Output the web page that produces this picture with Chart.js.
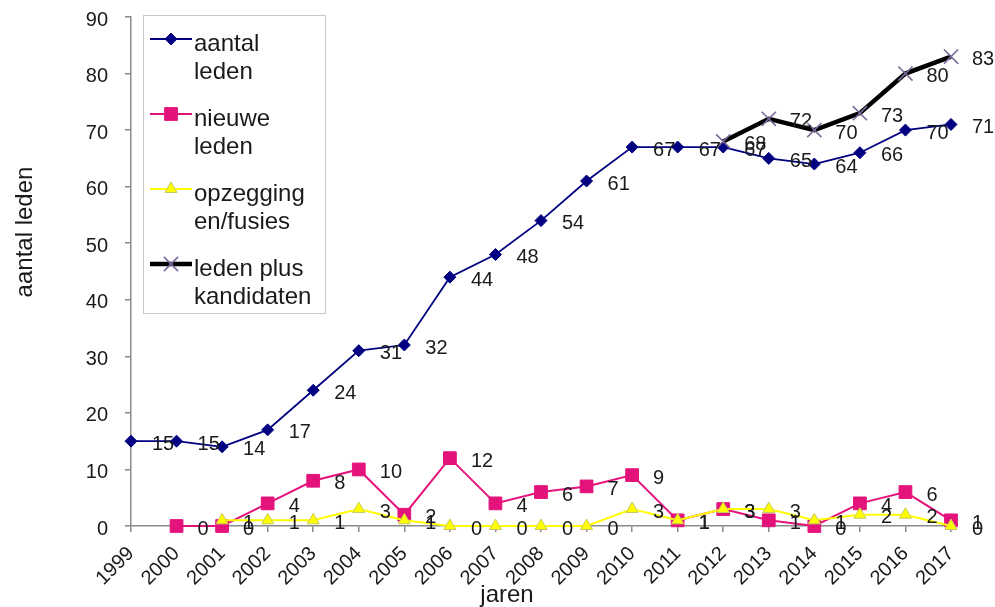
<!doctype html>
<html lang="nl">
  <head>
    <meta charset="UTF-8" />
    <title>Aantal leden</title>
    <script src="https://cdn.jsdelivr.net/npm/chart.js"></script>
    <style>
      html,
      body {
        margin: 0;
        padding: 0;
        background: #fff;
      }
      #wrap {
        width: 995px;
        height: 607px;
        position: relative;
      }
    </style>
  </head>

  <body>
    <div id="wrap"><canvas id="ledenChart"></canvas></div>

    <script>
      const years = [
        "1999", "2000", "2001", "2002", "2003", "2004", "2005", "2006", "2007", "2008",
        "2009", "2010", "2011", "2012", "2013", "2014", "2015", "2016", "2017",
      ];
      const aantalLeden = [15, 15, 14, 17, 24, 31, 32, 44, 48, 54, 61, 67, 67, 67, 65, 64, 66, 70, 71];
      const nieuweLeden = [null, 0, 0, 4, 8, 10, 2, 12, 4, 6, 7, 9, 1, 3, 1, 0, 4, 6, 1];
      const opzeggingen = [null, null, 1, 1, 1, 3, 1, 0, 0, 0, 0, 3, 1, 3, 3, 1, 2, 2, 0];
      const ledenPlusKandidaten = [
        null, null, null, null, null, null, null, null, null, null, null, null, null,
        68, 72, 70, 73, 80, 83,
      ];
      const legendLines = [
        ["aantal", "leden"],
        ["nieuwe", "leden"],
        ["opzegging", "en/fusies"],
        ["leden plus", "kandidaten"],
      ];
      const yTicks = [0, 10, 20, 30, 40, 50, 60, 70, 80, 90];

      const FONT = "'Liberation Sans', Arial, sans-serif";
      const AXIS = "#8a8a8a";

      // value labels right of each point
      const valueLabels = {
        id: "valueLabels",
        afterDatasetsDraw(chart) {
          const ctx = chart.ctx;
          ctx.save();
          ctx.font = "20px " + FONT;
          ctx.fillStyle = "#1a1a1a";
          ctx.textAlign = "left";
          ctx.textBaseline = "middle";
          chart.data.datasets.forEach((ds, i) => {
            const meta = chart.getDatasetMeta(i);
            meta.data.forEach((pt, j) => {
              if (ds.data[j] === null) return;
              ctx.fillText(String(ds.data[j]), pt.x + 21, pt.y + 3);
            });
          });
          ctx.restore();
        },
      };

      // boxed legend inside the plot + axis titles
      const boxLegend = {
        id: "boxLegend",
        afterDraw(chart) {
          const ctx = chart.ctx;
          ctx.save();
          ctx.fillStyle = "#fff";
          ctx.fillRect(143, 15, 182, 298);
          ctx.strokeStyle = "#c8c8c8";
          ctx.lineWidth = 1;
          ctx.strokeRect(143.5, 15.5, 182, 298);

          chart.data.datasets.forEach((ds, i) => {
            const y = 39 + i * 75;
            ctx.strokeStyle = ds.borderColor;
            ctx.lineWidth = ds.borderWidth;
            ctx.beginPath();
            ctx.moveTo(150, y);
            ctx.lineTo(192, y);
            ctx.stroke();
            ctx.fillStyle = ds.pointBackgroundColor;
            ctx.strokeStyle = ds.pointBorderColor;
            ctx.lineWidth = ds.pointBorderWidth;
            Chart.helpers.drawPoint(
              ctx,
              { pointStyle: ds.pointStyle, radius: ds.pointRadius, rotation: 0, borderWidth: ds.pointBorderWidth },
              171,
              y
            );
            ctx.fillStyle = "#1a1a1a";
            ctx.font = "24px " + FONT;
            ctx.textAlign = "left";
            ctx.textBaseline = "alphabetic";
            legendLines[i].forEach((t, k) => ctx.fillText(t, 194, y + 12 + k * 28));
          });

          ctx.font = "24px " + FONT;
          ctx.fillStyle = "#1a1a1a";
          ctx.textAlign = "center";
          ctx.textBaseline = "alphabetic";
          ctx.fillText("jaren", 507, 602);
          ctx.translate(32, 232);
          ctx.rotate(-Math.PI / 2);
          ctx.fillText("aantal leden", 0, 0);
          ctx.restore();
        },
      };

      const ctx = document.getElementById("ledenChart").getContext("2d");
      new Chart(ctx, {
        type: "line",
        data: {
          labels: years,
          datasets: [
            {
              label: "aantal leden",
              data: aantalLeden,
              borderColor: "#000080",
              borderWidth: 1.8,
              pointStyle: "rectRot",
              pointRadius: 6,
              pointBackgroundColor: "#000080",
              pointBorderColor: "#000080",
              pointBorderWidth: 1,
              order: 4,
            },
            {
              label: "nieuwe leden",
              data: nieuweLeden,
              borderColor: "#e4137b",
              borderWidth: 2,
              pointStyle: "rect",
              pointRadius: 9,
              pointBackgroundColor: "#e4137b",
              pointBorderColor: "#e4137b",
              pointBorderWidth: 1,
              order: 3,
            },
            {
              label: "opzeggingen/fusies",
              data: opzeggingen,
              borderColor: "#ffff00",
              borderWidth: 2,
              pointStyle: "triangle",
              pointRadius: 7,
              pointBackgroundColor: "#ffff00",
              pointBorderColor: "#c8c860",
              pointBorderWidth: 1,
              order: 2,
            },
            {
              label: "leden plus kandidaten",
              data: ledenPlusKandidaten,
              borderColor: "#000000",
              borderWidth: 4.5,
              pointStyle: "crossRot",
              pointRadius: 10,
              pointBackgroundColor: "#7a6a9a",
              pointBorderColor: "#7a6a9a",
              pointBorderWidth: 1.6,
              order: 1,
            },
          ],
        },
        options: {
          responsive: true,
          maintainAspectRatio: false,
          animation: false,
          datasets: { line: { clip: false } },
          layout: { padding: { top: 17, right: 44, left: 0, bottom: 0 } },
          plugins: {
            legend: { display: false },
            tooltip: { enabled: false },
          },
          scales: {
            x: {
              offset: false,
              grid: { display: true, drawOnChartArea: false, tickLength: 6, color: AXIS, lineWidth: 1.5 },
              border: { color: AXIS, width: 1.5 },
              ticks: {
                minRotation: 45,
                maxRotation: 45,
                autoSkip: false,
                padding: 10,
                color: "#1a1a1a",
                font: { family: FONT, size: 20 },
              },
              afterFit(s) {
                s.height = 81;
                s.paddingLeft = 0;
                s.paddingRight = 0;
              },
            },
            y: {
              min: 0,
              max: 90,
              afterBuildTicks(s) {
                s.ticks = yTicks.map((v) => ({ value: v }));
              },
              grid: { display: true, drawOnChartArea: false, tickLength: 6, color: AXIS, lineWidth: 1.5 },
              border: { color: AXIS, width: 1.5 },
              ticks: {
                padding: 17,
                labelOffset: 3,
                color: "#1a1a1a",
                font: { family: FONT, size: 20 },
              },
              afterFit(s) {
                s.width = 131;
                s.paddingTop = 0;
                s.paddingBottom = 0;
              },
            },
          },
        },
        plugins: [valueLabels, boxLegend],
      });
    </script>
  </body>
</html>
